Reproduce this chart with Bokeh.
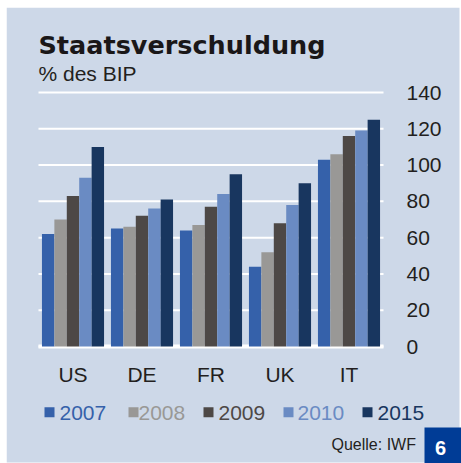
from bokeh.plotting import figure
from bokeh.models import ColumnDataSource, Range1d
from bokeh.transform import dodge
from bokeh.core.properties import value
from bokeh.embed import file_html
from bokeh.resources import INLINE

countries = ["US", "DE", "FR", "UK", "IT"]
years = ["2007", "2008", "2009", "2010", "2015"]
v2007 = [62, 65, 64, 44, 103]
v2008 = [70, 66, 67, 52, 106]
v2009 = [83, 72, 77, 68, 116]
v2010 = [93, 76, 84, 78, 119]
v2015 = [110, 81, 95, 90, 125]
y_ticks = [0, 20, 40, 60, 80, 100, 120, 140]
title_text = "Staatsverschuldung"
subtitle_text = "% des BIP"
source_text = "Quelle: IWF"
page_text = "6"

colors = ["#3561aa", "#999896", "#4d4846", "#6a8bc3", "#18365f"]
bg = "#cdd8e8"
txt = "#231f20"
LS = value("Liberation Sans")

# page geometry: canvas covers page x 6..461, y 7..463
# category i centre at page x 72.5 + 69*i ; value v at page y 346 - 1.8143*v
PX_CAT = 69.0
PX_VAL = 254.0 / 140.0
x0_page, x1_page, y0_page, y1_page = 6, 461, 7, 463
x_start = (x0_page - 72.5) / PX_CAT
x_end = (x1_page - 72.5) / PX_CAT
y_start = (346 - y1_page) / PX_VAL
y_end = (346 - y0_page) / PX_VAL

p = figure(width=x1_page - x0_page, height=y1_page - y0_page,
           x_range=Range1d(x_start, x_end), y_range=Range1d(y_start, y_end),
           x_axis_type=None, y_axis_type=None, min_border=0,
           output_backend="svg", toolbar_location=None,
           margin=(y0_page, 0, 0, x0_page))
p.background_fill_color = "white"
p.border_fill_color = "white"
p.outline_line_color = None
p.extra_x_ranges = {"px": Range1d(x0_page, x1_page)}
p.extra_y_ranges = {"px": Range1d(y1_page, y0_page)}

# panel background
p.quad(left=[6], right=[459], top=[7], bottom=[462], fill_color=bg,
       line_color=None, x_range_name="px", y_range_name="px")

# gridlines
n = len(countries)
p.segment(x0=[-0.5] * len(y_ticks), x1=[n - 0.5] * len(y_ticks),
          y0=y_ticks, y1=y_ticks, line_color="white", line_width=2)
p.segment(x0=[-0.5], x1=[n - 0.5], y0=[0], y1=[0], line_color="white",
          line_width=4)

# bars
data = {"idx": list(range(n))}
series = [v2007, v2008, v2009, v2010, v2015]
for yr, vals in zip(years, series):
    data[yr] = vals
source = ColumnDataSource(data)
bw = 0.18
offsets = [-2 * bw, -bw, 0, bw, 2 * bw]
for yr, off, col in zip(years, offsets, colors):
    p.vbar(x=dodge("idx", off), top=yr, width=bw, bottom=0,
           source=source, fill_color=col, line_color=None)

# value axis labels (right)
p.text(x=[n - 0.5] * len(y_ticks), y=y_ticks, text=[str(t) for t in y_ticks],
       x_offset=23, text_font=LS, text_font_size="21px", text_color=txt,
       text_baseline="middle", text_align="left")

# category labels
p.text(x=list(range(n)), y=[0] * n, text=countries, y_offset=27.8,
       text_font=LS, text_font_size="21px", text_color=txt,
       text_baseline="middle", text_align="center")

# header
p.text(x=[38], y=[44.4], text=[title_text], text_font=value("DejaVu Sans"),
       text_font_style="bold", text_font_size="25.5px", text_color="#1a1718",
       text_baseline="middle", x_range_name="px", y_range_name="px")
p.text(x=[38], y=[72.5], text=[subtitle_text], text_font=LS,
       text_font_size="21px", text_color=txt, text_baseline="middle",
       x_range_name="px", y_range_name="px")

# legend
sq_x = [44, 128, 203, 283, 362]
tx_x = [59, 138, 218, 297, 377]
p.quad(left=sq_x, right=[s + 10 for s in sq_x], top=[406.7] * 5,
       bottom=[416.7] * 5, fill_color=colors, line_color=None,
       x_range_name="px", y_range_name="px")
p.text(x=tx_x, y=[412.5] * 5, text=years, text_font=LS,
       text_font_size="21px", text_color=colors, text_baseline="middle",
       x_range_name="px", y_range_name="px")

# source and page number
p.text(x=[331], y=[443.8], text=[source_text], text_font=LS,
       text_font_size="16px", text_color=txt, text_baseline="middle",
       x_range_name="px", y_range_name="px")
p.quad(left=[424], right=[461], top=[427], bottom=[463],
       fill_color="#003c96", line_color=None,
       x_range_name="px", y_range_name="px")
p.text(x=[440], y=[447.9], text=[page_text], text_font=LS,
       text_font_style="bold", text_font_size="20px", text_color="white",
       text_align="center", text_baseline="middle",
       x_range_name="px", y_range_name="px")

open("out.html", "w").write(file_html(p, INLINE))
